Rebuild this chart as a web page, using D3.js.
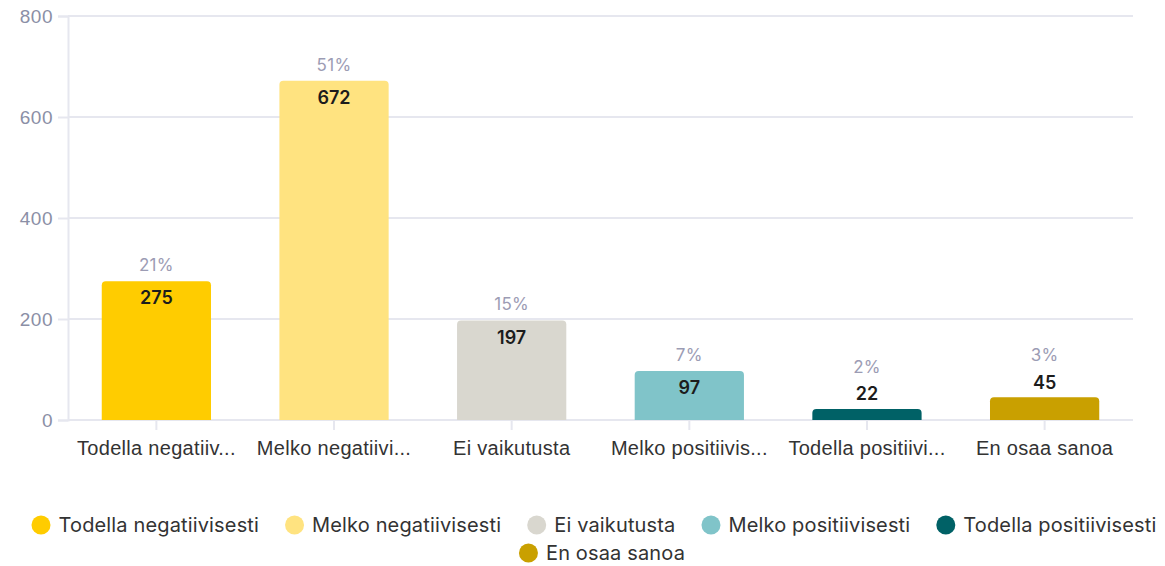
<!DOCTYPE html>
<html>
<head>
<meta charset="utf-8">
<script src="https://cdn.jsdelivr.net/npm/d3@7"></script>
<style>
  body { margin: 0; background: #fff; }
  svg { font-family: Inter, "Noto Sans", sans-serif; }
</style>
</head>
<body>
<div id="chart"></div>
<script>
// chart values
var categories = ["Todella negatiivisesti", "Melko negatiivisesti", "Ei vaikutusta",
  "Melko positiivisesti", "Todella positiivisesti", "En osaa sanoa"];
var tickLabels = ["Todella negatiiv...", "Melko negatiivi...", "Ei vaikutusta",
  "Melko positiivis...", "Todella positiivi...", "En osaa sanoa"];
var counts = [275, 672, 197, 97, 22, 45];
var colours = ["#ffcc00", "#ffe380", "#d9d7cf", "#80c4c9", "#006166", "#c9a000"];
var yTicks = [0, 200, 400, 600, 800];

var W = 1165, H = 566;
var margin = {top: 16, right: 32, bottom: 146, left: 68};
var width = W - margin.left - margin.right,
    height = H - margin.top - margin.bottom;

var svg = d3.select("#chart").append("svg")
  .attr("width", W).attr("height", H);

var g = svg.append("g")
  .attr("transform", "translate(" + margin.left + "," + margin.top + ")");

var x = d3.scaleBand().domain(categories).range([0, width]).paddingInner(0.385).paddingOuter(0.19);
var y = d3.scaleLinear().domain([0, 800]).range([height, 0]);

var total = d3.sum(counts);

// gridlines
g.selectAll(".grid").data(yTicks).enter().append("line")
  .attr("x1", 0).attr("x2", width)
  .attr("y1", function(d) { return y(d); })
  .attr("y2", function(d) { return y(d); })
  .attr("stroke", "#e6e7ef").attr("stroke-width", 2);

// y axis
var yAxis = g.append("g").call(d3.axisLeft(y).tickValues(yTicks).tickSize(10).tickPadding(5));
yAxis.select(".domain").attr("stroke", "#e6e7ef").attr("stroke-width", 2);
yAxis.selectAll(".tick line").attr("stroke", "#e6e7ef").attr("stroke-width", 2);
yAxis.selectAll(".tick text").attr("fill", "#8b8fa6").style("font-size", "19px")
  .style("letter-spacing", "0.5px");

// x axis
var xAxis = g.append("g").attr("transform", "translate(0," + height + ")")
  .call(d3.axisBottom(x).tickSize(10).tickPadding(11)
    .tickFormat(function(d, i) { return tickLabels[i]; }));
xAxis.select(".domain").remove();
xAxis.selectAll(".tick line").attr("stroke", "#e6e7ef").attr("stroke-width", 2);
xAxis.selectAll(".tick text").attr("fill", "#333").style("font-size", "20px")
  .style("letter-spacing", "0.3px");

// bars, rounded top corners
function barPath(d, i) {
  var x0 = x(categories[i]), w = x.bandwidth(), y0 = y(d), y1 = y(0), r = 4;
  return "M" + x0 + "," + y1 + "V" + (y0 + r) + "Q" + x0 + "," + y0 + " " + (x0 + r) + "," + y0 +
    "H" + (x0 + w - r) + "Q" + (x0 + w) + "," + y0 + " " + (x0 + w) + "," + (y0 + r) + "V" + y1 + "Z";
}
g.selectAll(".bar").data(counts).enter().append("path")
  .attr("d", barPath)
  .attr("fill", function(d, i) { return colours[i]; });

// labels
var lab = g.selectAll(".lab").data(counts).enter().append("g");
lab.append("text")
  .attr("x", function(d, i) { return x(categories[i]) + x.bandwidth() / 2; })
  .attr("y", function(d) { return y(d) < height - 30 ? y(d) + 17 : y(d) - 15; })
  .attr("dy", "0.35em")
  .attr("text-anchor", "middle")
  .attr("fill", "#1c1c1c").style("font-size", "18px").style("font-weight", "600")
  .text(function(d) { return d; });
lab.append("text")
  .attr("x", function(d, i) { return x(categories[i]) + x.bandwidth() / 2; })
  .attr("y", function(d) { return y(d) < height - 30 ? y(d) - 16 : y(d) - 42; })
  .attr("dy", "0.35em")
  .attr("text-anchor", "middle")
  .attr("fill", "#9c9cb4").style("font-size", "17px").style("letter-spacing", "0.3px")
  .text(function(d) { return Math.round(d / total * 100) + "%"; });

// legend, flowed into centred rows
var legend = svg.append("g");
var items = legend.selectAll(".item").data(categories).enter().append("g");
items.append("circle").attr("r", 9.5).attr("cx", 9.5).attr("cy", 0)
  .attr("fill", function(d, i) { return colours[i]; });
items.append("text").attr("x", 27).attr("dy", "0.35em")
  .attr("fill", "#333").style("font-size", "20px").style("letter-spacing", "0.15px")
  .text(function(d) { return d; });

var maxRow = 1145, gap = 26, rows = [[]], rowW = [0];
items.each(function() {
  var w = 27 + this.querySelector("text").getComputedTextLength();
  var r = rows.length - 1;
  var add = rows[r].length ? gap + w : w;
  if (rowW[r] + add > maxRow) { rows.push([]); rowW.push(0); r++; add = w; }
  rows[r].push({node: this, w: w});
  rowW[r] += add;
});
rows.forEach(function(row, r) {
  var cx = (r ? 602 : 594) - rowW[r] / 2;
  row.forEach(function(it) {
    d3.select(it.node).attr("transform", "translate(" + cx + "," + (525 + r * 28) + ")");
    cx += it.w + gap;
  });
});
</script>
</body>
</html>
